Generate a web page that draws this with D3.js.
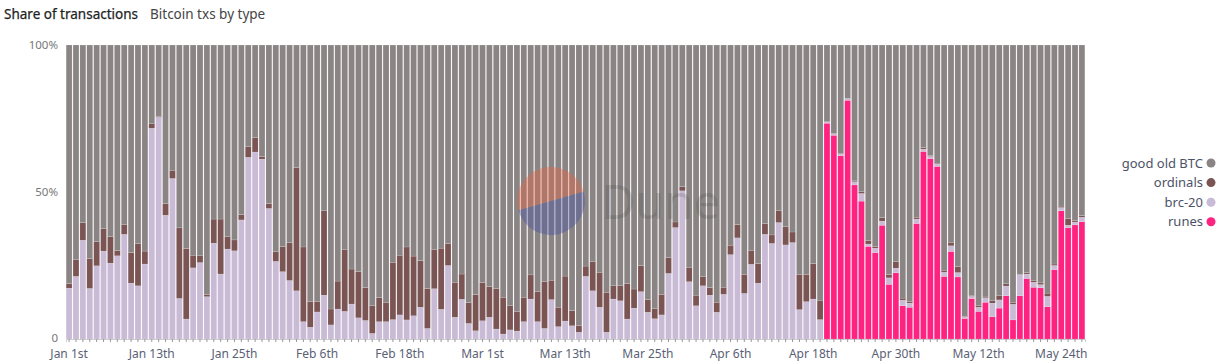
<!DOCTYPE html>
<html>
<head>
<meta charset="utf-8">
<script src="https://cdn.jsdelivr.net/npm/d3@7"></script>
<style>
  body { margin: 0; background: #fff; }
  svg { display: block; font-family: 'Noto Sans', 'Open Sans', sans-serif; }
</style>
</head>
<body>
<svg id="chart"></svg>
<script>
// days from Jan 1st 2024, one bar per day
const startDay = new Date(2024, 0, 1);
const dayCount = 148;

// share of txs in percent
const brc20 = [
  17.3, 21.3, 33.6, 17.2, 24.9, 29.9, 25.8, 28.3, 35.6, 19.0, 18.1, 25.5, 71.7, 75.4, 42.1, 54.6,
  13.8, 6.8, 24.2, 26.0, 14.4, 32.6, 22.1, 30.6, 30.0, 40.5, 61.8, 63.6, 61.2, 44.4, 26.4, 22.9,
  19.9, 16.4, 5.9, 4.0, 9.2, 14.9, 4.8, 10.2, 9.4, 11.9, 7.2, 6.3, 1.9, 5.9, 5.9, 6.6,
  8.2, 6.5, 7.9, 10.8, 3.6, 17.1, 10.1, 25.0, 7.4, 13.5, 5.3, 2.8, 6.2, 7.4, 3.4, 1.7,
  3.1, 2.7, 5.9, 13.6, 5.9, 3.6, 13.4, 4.2, 6.1, 4.5, 2.3, 21.3, 16.4, 10.8, 2.3, 13.6,
  13.0, 6.8, 10.5, 16.1, 9.1, 6.9, 8.2, 22.3, 37.9, 50.4, 19.5, 11.3, 18.1, 14.9, 9.1, 15.2,
  28.7, 34.4, 15.5, 25.4, 19.0, 35.6, 32.5, 39.6, 32.0, 32.8, 10.0, 12.7, 13.6, 6.6, 0.4, 0.5,
  0.7, 0.5, 1.1, 2.6, 0.8, 1.5, 1.4, 2.2, 1.6, 1.9, 1.4, 1.5, 0.8, 0.7, 0.8, 1.4,
  1.9, 1.5, 0.6, 0.7, 1.4, 1.5, 4.6, 2.8, 3.3, 5.3, 7.1, 1.5, 1.7, 1.1, 3.5, 1.4,
  1.1, 0.8, 1.0, 1.5
];

const ordinals = [
  1.6, 5.8, 6.0, 10.2, 8.2, 7.7, 9.1, 1.8, 3.4, 10.4, 14.3, 4.4, 1.5, 0.2, 4.0, 2.8,
  24.0, 24.0, 4.3, 2.3, 0.8, 8.2, 18.7, 4.3, 3.7, 1.8, 3.6, 4.9, 0.9, 1.7, 3.3, 8.5,
  12.9, 41.9, 25.4, 8.8, 3.6, 28.7, 5.4, 9.5, 21.1, 11.9, 15.7, 11.2, 9.4, 8.2, 6.6, 19.5,
  20.3, 24.8, 20.3, 15.9, 13.6, 13.4, 20.8, 7.5, 11.9, 8.6, 7.1, 12.3, 13.0, 10.4, 13.8, 12.5,
  8.2, 6.7, 8.3, 8.2, 10.2, 16.0, 6.6, 6.6, 15.3, 5.2, 2.3, 3.5, 10.0, 11.9, 13.6, 4.5,
  5.1, 12.1, 6.5, 8.9, 4.3, 3.4, 7.0, 5.4, 1.9, 1.4, 4.9, 3.6, 3.2, 2.6, 3.4, 2.4,
  3.2, 4.5, 6.5, 4.8, 6.7, 3.7, 2.9, 4.0, 6.2, 3.6, 12.0, 9.3, 12.1, 6.6, 0.2, 0.1,
  0.2, 0.1, 0.3, 0.6, 1.2, 0.5, 1.2, 1.1, 2.2, 0.7, 0.6, 0.6, 0.5, 0.3, 0.3, 0.7,
  1.2, 2.0, 0.2, 0.2, 0.5, 0.3, 0.8, 1.4, 0.8, 0.7, 0.2, 0.5, 0.5, 0.6, 1.1, 0.5,
  0.5, 2.3, 0.5, 0.6
];

// runes only exist from Apr 20th (day 110)
const runes = [
  0, 0, 0, 0, 0, 0, 0, 0, 0, 0, 0, 0, 0, 0, 0, 0, 0, 0, 0, 0, 0, 0, 0, 0, 0, 0, 0, 0, 0, 0,
  0, 0, 0, 0, 0, 0, 0, 0, 0, 0, 0, 0, 0, 0, 0, 0, 0, 0, 0, 0, 0, 0, 0, 0, 0, 0, 0, 0, 0, 0,
  0, 0, 0, 0, 0, 0, 0, 0, 0, 0, 0, 0, 0, 0, 0, 0, 0, 0, 0, 0, 0, 0, 0, 0, 0, 0, 0, 0, 0, 0,
  0, 0, 0, 0, 0, 0, 0, 0, 0, 0, 0, 0, 0, 0, 0, 0, 0, 0, 0, 0,
  73.4, 69.3, 62.3, 81.2, 52.4, 46.9, 31.5, 29.4, 38.7, 18.6, 22.5, 11.3, 10.8, 39.3, 63.8, 61.4,
  58.7, 21.3, 29.8, 21.1, 7.0, 13.8, 9.4, 12.5, 7.6, 10.5, 14.7, 6.5, 14.7, 20.6, 17.6, 17.4,
  11.0, 23.6, 43.6, 37.9, 38.8, 39.9
];

const seriesKeys = ['runes', 'brc20', 'ordinals', 'btc'];
const seriesNames = { runes: 'runes', brc20: 'brc-20', ordinals: 'ordinals', btc: 'good old BTC' };
const seriesColors = { runes: '#ff2381', brc20: '#c9bad5', ordinals: '#7b5454', btc: '#8a8584' };

const tickIdx = [0, 12, 24, 36, 48, 60, 72, 84, 96, 108, 120, 132, 144];
const tickLabels = ['Jan 1st', 'Jan 13th', 'Jan 25th', 'Feb 6th', 'Feb 18th', 'Mar 1st', 'Mar 13th',
  'Mar 25th', 'Apr 6th', 'Apr 18th', 'Apr 30th', 'May 12th', 'May 24th'];

// build rows; good old BTC is whatever is left of 100%
const rows = d3.range(dayCount).map((i) => {
  const r = { i: i, date: d3.timeDay.offset(startDay, i), runes: runes[i], brc20: brc20[i], ordinals: ordinals[i] };
  r.btc = 100 - r.runes - r.brc20 - r.ordinals;
  return r;
});

const svgWidth = 1225, svgHeight = 363;
const margin = { top: 45, right: 140, bottom: 24, left: 66 };
const width = svgWidth - margin.left - margin.right;
const height = svgHeight - margin.top - margin.bottom;

const svg = d3.select('#chart').attr('width', svgWidth).attr('height', svgHeight);

svg.append('text').attr('x', 4).attr('y', 19)
  .attr('font-size', 13.5).attr('fill', '#1f1f1f').attr('stroke', '#1f1f1f').attr('stroke-width', 0.25)
  .text('Share of transactions');
svg.append('text').attr('x', 150).attr('y', 19)
  .attr('font-size', 13.5).attr('fill', '#444')
  .text('Bitcoin txs by type');

const g = svg.append('g').attr('transform', 'translate(' + margin.left + ',' + margin.top + ')');

const x = d3.scaleBand().domain(d3.range(dayCount)).range([0, width]).paddingInner(0.14).paddingOuter(0.02);
const y = d3.scaleLinear().domain([0, 100]).range([height, 0]);

const stack = d3.stack().keys(seriesKeys);
const layers = stack(rows);

g.selectAll('g.layer')
  .data(layers)
  .join('g')
  .attr('class', 'layer')
  .attr('fill', (d) => seriesColors[d.key])
  .selectAll('rect')
  .data((d) => d)
  .join('rect')
  .attr('x', (d) => x(d.data.i))
  .attr('width', x.bandwidth())
  .attr('y', (d) => y(d[1]))
  .attr('height', (d) => Math.max(0, y(d[0]) - y(d[1])))
  .attr('stroke', 'rgba(255,255,255,0.35)')
  .attr('stroke-width', 0.4);

// y axis labels
const yAxis = g.append('g')
  .call(d3.axisLeft(y).tickValues([0, 50, 100]).tickSize(0).tickPadding(8)
    .tickFormat((d) => (d === 0 ? '0' : d + '%')));
yAxis.select('.domain').remove();
yAxis.selectAll('text').attr('font-size', 11.5).attr('fill', '#777').attr('font-family', 'Noto Sans')
  .attr('dy', (d) => (d === 0 ? '0.2em' : '0.32em'));

// x axis: small tick every day, label every 12 days
const xAxis = g.append('g')
  .attr('transform', 'translate(0,' + height + ')')
  .call(d3.axisBottom(x).tickValues(d3.range(dayCount)).tickSize(3).tickPadding(7)
    .tickFormat((d) => {
      const k = tickIdx.indexOf(d);
      return k < 0 ? '' : tickLabels[k];
    }));
xAxis.select('.domain').attr('stroke', '#ccc');
xAxis.selectAll('.tick line').attr('stroke', '#999');
xAxis.selectAll('text').attr('font-size', 12).attr('fill', '#5a6175').attr('font-family', 'Noto Sans');

// Dune watermark
const wm = svg.append('g').attr('opacity', 0.35).attr('transform', 'translate(551,201)');
wm.append('clipPath').attr('id', 'wmclip').append('circle').attr('r', 34);
wm.append('rect').attr('x', -40).attr('y', -60).attr('width', 80).attr('height', 60)
  .attr('fill', '#f5603a').attr('clip-path', 'url(#wmclip)')
  .attr('transform', 'rotate(-16)');
wm.append('rect').attr('x', -40).attr('y', 0).attr('width', 80).attr('height', 60)
  .attr('fill', '#3f4aa8').attr('clip-path', 'url(#wmclip)')
  .attr('transform', 'rotate(-16)');
svg.append('text').attr('x', 601).attr('y', 219)
  .attr('font-size', 47).attr('fill', '#333').attr('opacity', 0.16)
  .text('Dune');

// legend
const legendKeys = ['btc', 'ordinals', 'brc20', 'runes'];
const legend = svg.append('g').attr('transform', 'translate(1203,163)');
const item = legend.selectAll('g').data(legendKeys).join('g')
  .attr('transform', (d, i) => 'translate(0,' + i * 19.6 + ')');
item.append('text').attr('text-anchor', 'end').attr('dy', '0.35em')
  .attr('font-size', 13).attr('fill', '#4d5366')
  .text((d) => seriesNames[d]);
item.append('circle').attr('cx', 8).attr('r', 4.5).attr('fill', (d) => seriesColors[d]);
</script>
</body>
</html>
